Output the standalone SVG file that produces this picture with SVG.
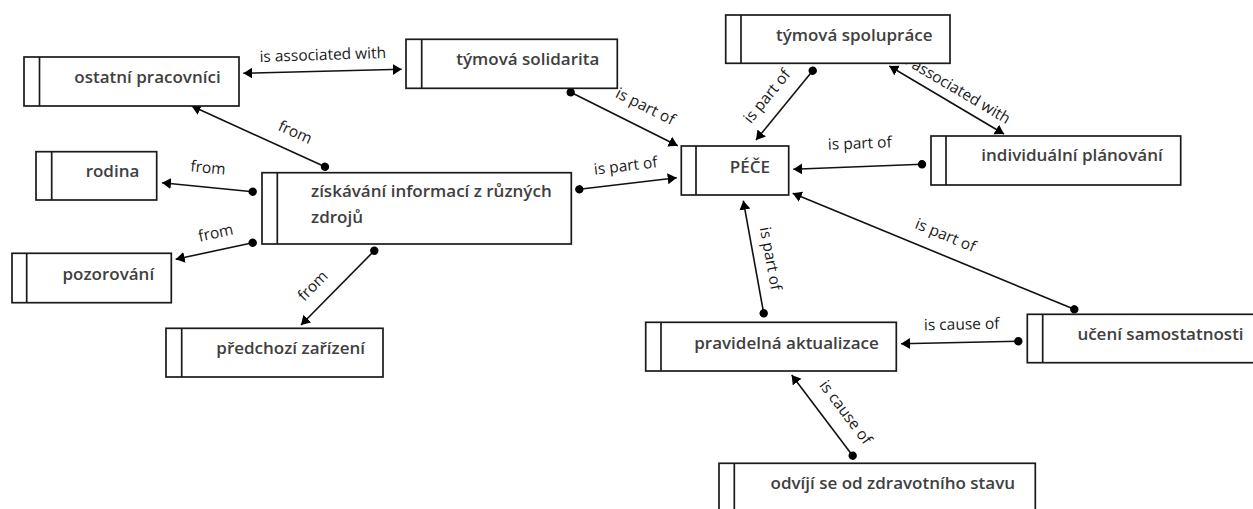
<svg xmlns="http://www.w3.org/2000/svg" width="1253" height="509" viewBox="0 0 1253 509">
<defs>
<style>
.box{fill:#fff;stroke:#1a1a1a;stroke-width:1.7}
.div{stroke:#1a1a1a;stroke-width:1.7}
.nt{font-family:"Open Sans","Noto Sans",sans-serif;font-weight:600;font-size:17px;fill:#404040;text-anchor:middle}
.ntl{font-family:"Open Sans","Noto Sans",sans-serif;font-weight:600;font-size:17px;fill:#404040;text-anchor:start}
.ln{stroke:#111;stroke-width:1.6;fill:none;marker-start:url(#dot);marker-end:url(#arr)}
.ln2{stroke:#111;stroke-width:1.6;fill:none;marker-start:url(#arr);marker-end:url(#arr)}
.lb{font-family:"Open Sans","Noto Sans",sans-serif;font-size:15.5px;fill:#1a1a1a;text-anchor:middle}
</style>
<marker id="arr" markerUnits="userSpaceOnUse" markerWidth="10" markerHeight="12" refX="9" refY="5.5" orient="auto-start-reverse" viewBox="0 0 10 12">
<path d="M0,0 L9,5.5 L0,11 z" fill="#000"/>
</marker>
<marker id="dot" markerUnits="userSpaceOnUse" markerWidth="10" markerHeight="10" refX="5" refY="5" orient="auto" viewBox="0 0 10 10">
<circle cx="5" cy="5" r="4.2" fill="#000"/>
</marker>
</defs>
<rect width="1253" height="509" fill="#fff"/>
<g id="connectors">
<line class="ln2" x1="243.3" y1="73.3" x2="401.7" y2="69.3"/>
<text class="lb" transform="translate(323,60) rotate(-1.9)">is associated with</text>
<line class="ln" x1="325" y1="166.7" x2="191.7" y2="106"/>
<text class="lb" transform="translate(293,137) rotate(24.5)">from</text>
<line class="ln" x1="252.7" y1="191.7" x2="162" y2="182.7"/>
<text class="lb" transform="translate(207.6,173) rotate(5.7)">from</text>
<line class="ln" x1="252.7" y1="242.7" x2="175.7" y2="259.3"/>
<text class="lb" transform="translate(216.8,238) rotate(-12.2)">from</text>
<line class="ln" x1="374.3" y1="250.7" x2="301" y2="325"/>
<text class="lb" transform="translate(316.5,289.5) rotate(-45.4)">from</text>
<line class="ln" x1="579.3" y1="189.3" x2="676.7" y2="177.7"/>
<text class="lb" transform="translate(626.3,171) rotate(-6.8)">is part of</text>
<line class="ln" x1="570.7" y1="92.3" x2="677.7" y2="145.7"/>
<text class="lb" transform="translate(643,111) rotate(26.5)">is part of</text>
<line class="ln" x1="812.7" y1="70.7" x2="756" y2="140"/>
<text class="lb" transform="translate(771,99.5) rotate(-50.7)">is part of</text>
<line class="ln" x1="922" y1="164.3" x2="793.3" y2="169.3"/>
<text class="lb" transform="translate(860,148.5) rotate(-2.2)">is part of</text>
<line class="ln2" x1="889.3" y1="66" x2="1004" y2="134"/>
<text class="lb" transform="translate(952,92) rotate(30.7)">is associated with</text>
<line class="ln" x1="1074.3" y1="309.3" x2="792.7" y2="193.3"/>
<text class="lb" transform="translate(943.5,240) rotate(22.4)">is part of</text>
<line class="ln" x1="1018.3" y1="341.3" x2="901" y2="343.7"/>
<text class="lb" transform="translate(961.8,329.5) rotate(-1.2)">is cause of</text>
<line class="ln" x1="763.7" y1="313.3" x2="743.3" y2="200.7"/>
<text class="lb" transform="translate(765.5,259.5) rotate(79.7)">is part of</text>
<line class="ln" x1="852.7" y1="455.7" x2="791.7" y2="375"/>
<text class="lb" transform="translate(841.5,415.5) rotate(52.9)">is cause of</text>
</g>
<g id="n-ostatni">
<rect class="box" x="24" y="57" width="215" height="49"/>
<line class="div" x1="39.5" y1="57" x2="39.5" y2="106"/>
<text class="nt" x="147.5" y="83">ostatní pracovníci</text>
</g>
<g id="n-solidarita">
<rect class="box" x="406" y="39.3" width="211.3" height="49"/>
<line class="div" x1="421.7" y1="39.3" x2="421.7" y2="88.3"/>
<text class="nt" x="527.8" y="65.3">týmová solidarita</text>
</g>
<g id="n-spoluprace">
<rect class="box" x="725.7" y="15" width="224.3" height="48.3"/>
<line class="div" x1="741" y1="15" x2="741" y2="63.3"/>
<text class="nt" x="854.2" y="41.3">týmová spolupráce</text>
</g>
<g id="n-pece">
<rect class="box" x="681.3" y="146" width="107.4" height="49"/>
<line class="div" x1="696" y1="146" x2="696" y2="195"/>
<text class="nt" x="749.9" y="173">PÉČE</text>
</g>
<g id="n-individualni">
<rect class="box" x="931" y="136" width="249.7" height="49"/>
<line class="div" x1="946" y1="136" x2="946" y2="185"/>
<text class="nt" x="1072" y="161.3">individuální plánování</text>
</g>
<g id="n-rodina">
<rect class="box" x="36" y="151.7" width="120.7" height="48.3"/>
<line class="div" x1="51.7" y1="151.7" x2="51.7" y2="200"/>
<text class="nt" x="112.5" y="177">rodina</text>
</g>
<g id="n-ziskavani">
<rect class="box" x="262" y="172.7" width="309.3" height="71.3"/>
<line class="div" x1="277.3" y1="172.7" x2="277.3" y2="244"/>
<text class="ntl" x="311" y="197">získávání informací z různých</text>
<text class="ntl" x="311" y="223">zdrojů</text>
</g>
<g id="n-pozorovani">
<rect class="box" x="12" y="253.3" width="159.3" height="49.4"/>
<line class="div" x1="26.7" y1="253.3" x2="26.7" y2="302.7"/>
<text class="nt" x="108.3" y="279.5">pozorování</text>
</g>
<g id="n-predchozi">
<rect class="box" x="166" y="328.3" width="217" height="48.7"/>
<line class="div" x1="181.7" y1="328.3" x2="181.7" y2="377"/>
<text class="nt" x="290.7" y="353.5">předchozí zařízení</text>
</g>
<g id="n-pravidelna">
<rect class="box" x="645.7" y="322.3" width="250.6" height="48.7"/>
<line class="div" x1="661" y1="322.3" x2="661" y2="371"/>
<text class="nt" x="786.5" y="348.5">pravidelná aktualizace</text>
</g>
<g id="n-uceni">
<rect class="box" x="1027.3" y="314.3" width="240" height="48.4"/>
<line class="div" x1="1042.7" y1="314.3" x2="1042.7" y2="362.7"/>
<text class="nt" x="1160.5" y="339.5">učení samostatnosti</text>
</g>
<g id="n-odviji">
<rect class="box" x="719" y="463.3" width="316.3" height="49"/>
<line class="div" x1="734.3" y1="463.3" x2="734.3" y2="512.3"/>
<text class="nt" x="892.8" y="488.5">odvíjí se od zdravotního stavu</text>
</g>
</svg>
